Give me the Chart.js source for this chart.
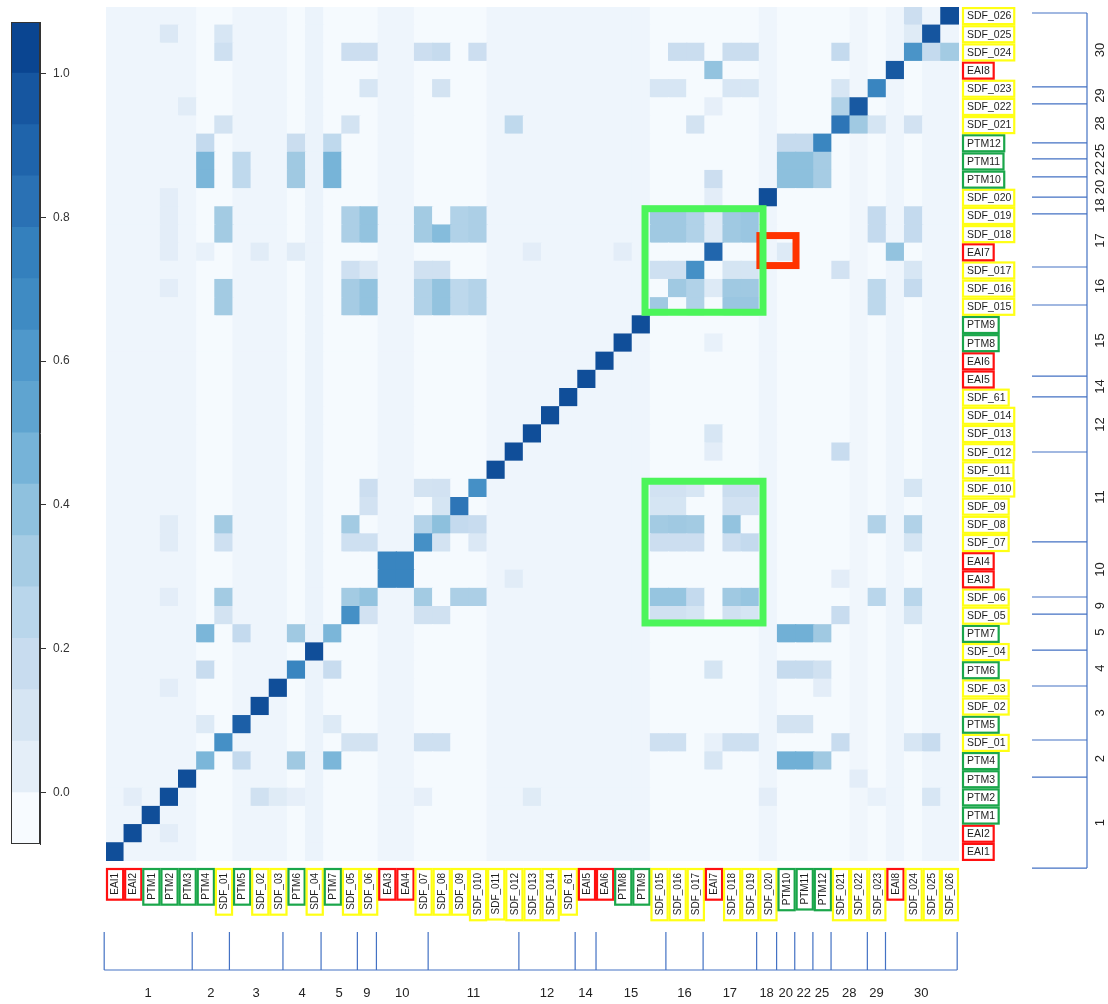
<!DOCTYPE html>
<html>
<head>
<meta charset="utf-8">
<script src="https://cdn.jsdelivr.net/npm/chart.js@4.4.1/dist/chart.umd.min.js"></script>
<style>
  html, body { margin: 0; padding: 0; background: #ffffff; }
  #wrap { position: relative; width: 1108px; height: 1004px; overflow: hidden; }
  #wrap canvas { position: absolute; left: 0; top: 0; }
</style>
</head>
<body>
<div id="wrap">
  <canvas id="heat" width="1108" height="1004"></canvas>
  <canvas id="cbar" width="100" height="1004"></canvas>
</div>
<script>
// ---- sample names (bottom to top on the y axis, left to right on the x axis) ----
const labels = [
  'EAI1', 'EAI2', 'PTM1', 'PTM2', 'PTM3', 'PTM4', 'SDF_01', 'PTM5', 'SDF_02', 'SDF_03',
  'PTM6', 'SDF_04', 'PTM7', 'SDF_05', 'SDF_06', 'EAI3', 'EAI4', 'SDF_07', 'SDF_08', 'SDF_09',
  'SDF_010', 'SDF_011', 'SDF_012', 'SDF_013', 'SDF_014', 'SDF_61', 'EAI5', 'EAI6', 'PTM8', 'PTM9',
  'SDF_015', 'SDF_016', 'SDF_017', 'EAI7', 'SDF_018', 'SDF_019', 'SDF_020', 'PTM10', 'PTM11', 'PTM12',
  'SDF_021', 'SDF_022', 'SDF_023', 'EAI8', 'SDF_024', 'SDF_025', 'SDF_026'
];

// background level of each column
const colBase = [
  0.0, 0.0, 0.0, 0.0, 0.0, -0.03, -0.03, 0.0, 0.0, 0.0,
  -0.03, 0.01, -0.03, -0.03, -0.03, 0.0, 0.0, -0.03, -0.03, -0.03,
  -0.03, 0.0, 0.0, 0.0, 0.0, 0.0, 0.0, 0.0, 0.0, 0.0,
  -0.03, -0.03, -0.03, -0.03, -0.03, -0.03, 0.0, -0.03, -0.03, -0.03,
  -0.03, -0.01, -0.03, 0.0, -0.03, 0.0, 0.0
];

// [row, column, value] for every cell that stands out from its column background
const cells = [
  [0, 0, 1.0],
  [1, 1, 1.0], [1, 3, 0.04],
  [2, 2, 1.0],
  [3, 1, 0.04], [3, 3, 1.0], [3, 8, 0.14], [3, 9, 0.06], [3, 10, 0.03], [3, 17, 0.03], [3, 23, 0.06], [3, 36, 0.04], [3, 42, 0.02], [3, 45, 0.1],
  [4, 4, 1.0], [4, 41, 0.04],
  [5, 5, 0.45], [5, 7, 0.2], [5, 10, 0.34], [5, 12, 0.45], [5, 33, 0.1], [5, 37, 0.48], [5, 38, 0.48], [5, 39, 0.34],
  [6, 6, 0.65], [6, 13, 0.12], [6, 14, 0.12], [6, 17, 0.15], [6, 18, 0.15], [6, 30, 0.15], [6, 31, 0.15], [6, 33, 0.02], [6, 34, 0.15], [6, 35, 0.15], [6, 40, 0.18], [6, 44, 0.1], [6, 45, 0.18],
  [7, 5, 0.07], [7, 7, 0.92], [7, 12, 0.07], [7, 37, 0.12], [7, 38, 0.12],
  [8, 8, 1.0],
  [9, 3, 0.04], [9, 9, 1.0], [9, 39, 0.04],
  [10, 5, 0.18], [10, 10, 0.72], [10, 12, 0.18], [10, 33, 0.11], [10, 37, 0.19], [10, 38, 0.19], [10, 39, 0.14],
  [11, 11, 1.0],
  [12, 5, 0.45], [12, 7, 0.2], [12, 10, 0.34], [12, 12, 0.45], [12, 37, 0.48], [12, 38, 0.48], [12, 39, 0.34],
  [13, 6, 0.12], [13, 13, 0.65], [13, 14, 0.13], [13, 17, 0.14], [13, 18, 0.14], [13, 30, 0.14], [13, 31, 0.14], [13, 32, 0.11], [13, 34, 0.14], [13, 35, 0.11], [13, 40, 0.18], [13, 44, 0.11],
  [14, 3, 0.04], [14, 6, 0.33], [14, 13, 0.33], [14, 14, 0.38], [14, 17, 0.33], [14, 19, 0.3], [14, 20, 0.3], [14, 30, 0.37], [14, 31, 0.37], [14, 32, 0.2], [14, 34, 0.34], [14, 35, 0.37], [14, 42, 0.25], [14, 44, 0.25],
  [15, 15, 0.72], [15, 16, 0.72], [15, 22, 0.05], [15, 40, 0.04],
  [16, 15, 0.72], [16, 16, 0.72],
  [17, 3, 0.05], [17, 6, 0.15], [17, 13, 0.15], [17, 14, 0.15], [17, 17, 0.65], [17, 18, 0.12], [17, 20, 0.08], [17, 30, 0.16], [17, 31, 0.16], [17, 32, 0.16], [17, 34, 0.16], [17, 35, 0.2], [17, 44, 0.11],
  [18, 3, 0.05], [18, 6, 0.33], [18, 13, 0.33], [18, 17, 0.27], [18, 18, 0.4], [18, 19, 0.2], [18, 20, 0.18], [18, 30, 0.33], [18, 31, 0.34], [18, 32, 0.33], [18, 34, 0.38], [18, 42, 0.28], [18, 44, 0.28],
  [19, 14, 0.13], [19, 18, 0.11], [19, 19, 0.8], [19, 30, 0.11], [19, 31, 0.11], [19, 34, 0.13], [19, 35, 0.13],
  [20, 14, 0.16], [20, 17, 0.12], [20, 18, 0.13], [20, 20, 0.65], [20, 30, 0.13], [20, 31, 0.13], [20, 32, 0.1], [20, 34, 0.17], [20, 35, 0.17], [20, 44, 0.11],
  [21, 21, 1.0],
  [22, 22, 1.0], [22, 33, 0.04], [22, 40, 0.18],
  [23, 23, 1.0], [23, 33, 0.1],
  [24, 24, 1.0],
  [25, 25, 1.0],
  [26, 26, 1.0],
  [27, 27, 1.0],
  [28, 28, 1.0], [28, 33, 0.02],
  [29, 29, 1.0],
  [30, 6, 0.33], [30, 13, 0.32], [30, 14, 0.38], [30, 17, 0.28], [30, 18, 0.38], [30, 19, 0.23], [30, 20, 0.27], [30, 30, 0.34], [30, 32, 0.28], [30, 34, 0.36], [30, 35, 0.36], [30, 42, 0.23],
  [31, 3, 0.04], [31, 6, 0.33], [31, 13, 0.32], [31, 14, 0.38], [31, 17, 0.28], [31, 18, 0.38], [31, 19, 0.23], [31, 20, 0.27], [31, 31, 0.34], [31, 32, 0.28], [31, 33, 0.07], [31, 34, 0.34], [31, 35, 0.34], [31, 42, 0.23], [31, 44, 0.2],
  [32, 13, 0.15], [32, 14, 0.08], [32, 17, 0.14], [32, 18, 0.14], [32, 30, 0.15], [32, 31, 0.15], [32, 32, 0.65], [32, 34, 0.11], [32, 35, 0.11], [32, 40, 0.13], [32, 44, 0.1],
  [33, 3, 0.04], [33, 5, 0.02], [33, 8, 0.05], [33, 10, 0.05], [33, 23, 0.04], [33, 28, 0.04], [33, 33, 0.88], [33, 37, 0.07], [33, 43, 0.38],
  [34, 3, 0.04], [34, 6, 0.33], [34, 13, 0.3], [34, 14, 0.38], [34, 17, 0.33], [34, 18, 0.42], [34, 19, 0.28], [34, 20, 0.3], [34, 30, 0.34], [34, 31, 0.34], [34, 32, 0.28], [34, 33, 0.07], [34, 34, 0.34], [34, 35, 0.36], [34, 42, 0.2], [34, 44, 0.2],
  [35, 3, 0.04], [35, 6, 0.33], [35, 13, 0.3], [35, 14, 0.38], [35, 17, 0.33], [35, 19, 0.28], [35, 20, 0.3], [35, 30, 0.34], [35, 31, 0.34], [35, 32, 0.28], [35, 33, 0.07], [35, 34, 0.34], [35, 35, 0.36], [35, 42, 0.2], [35, 44, 0.2],
  [36, 3, 0.04], [36, 33, 0.04], [36, 36, 1.0],
  [37, 5, 0.45], [37, 7, 0.22], [37, 10, 0.34], [37, 12, 0.46], [37, 33, 0.16], [37, 37, 0.4], [37, 38, 0.4], [37, 39, 0.32],
  [38, 5, 0.45], [38, 7, 0.22], [38, 10, 0.34], [38, 12, 0.46], [38, 37, 0.4], [38, 38, 0.4], [38, 39, 0.32],
  [39, 5, 0.2], [39, 10, 0.17], [39, 12, 0.22], [39, 37, 0.19], [39, 38, 0.19], [39, 39, 0.71],
  [40, 6, 0.12], [40, 13, 0.12], [40, 22, 0.22], [40, 32, 0.12], [40, 40, 0.8], [40, 41, 0.34], [40, 42, 0.11], [40, 44, 0.13],
  [41, 4, 0.05], [41, 33, 0.03], [41, 40, 0.28], [41, 41, 0.95],
  [42, 14, 0.1], [42, 18, 0.12], [42, 30, 0.1], [42, 31, 0.1], [42, 34, 0.1], [42, 35, 0.1], [42, 40, 0.1], [42, 42, 0.72],
  [43, 33, 0.38], [43, 43, 0.95],
  [44, 6, 0.15], [44, 13, 0.16], [44, 14, 0.16], [44, 17, 0.16], [44, 18, 0.19], [44, 20, 0.16], [44, 31, 0.17], [44, 32, 0.17], [44, 34, 0.17], [44, 35, 0.17], [44, 40, 0.2], [44, 44, 0.63], [44, 45, 0.2], [44, 46, 0.33],
  [45, 3, 0.08], [45, 6, 0.1], [45, 44, 0.06], [45, 45, 0.97],
  [46, 44, 0.16], [46, 46, 1.0]
];

// cluster numbers and their boundaries (in cell units) along the bottom and right edges
const groupNames = ['1', '2', '3', '4', '5', '9', '10', '11', '12', '14', '15', '16', '17', '18', '20', '22', '25', '28', '29', '30'];
const bottomBounds = [-0.1, 4.75, 6.8, 9.75, 11.85, 13.85, 14.9, 17.75, 22.75, 25.85, 27.0, 30.85, 32.9, 35.85, 36.95, 37.95, 38.95, 39.95, 41.95, 42.95, 46.9];
const rightBounds = [-0.39, 4.62, 6.66, 9.63, 11.61, 13.59, 14.53, 17.56, 22.51, 25.54, 26.69, 30.6, 32.69, 35.61, 36.54, 37.65, 38.64, 39.52, 41.67, 42.6, 46.67];

// highlighted blocks (cell units: columns x0..x1, rows y0..y1)
const greenBlocks = [
  { x0: 29.7, x1: 36.2, y0: 30.2, y1: 35.9 },
  { x0: 29.7, x1: 36.2, y0: 13.1, y1: 20.9 }
];
const redBlock = { x0: 36.03, x1: 38.02, y0: 32.77, y1: 34.42 };

// colour key
const bandColors = [
  '#f7fbff', '#e4eef8', '#d6e5f3', '#c8dcef', '#b9d6eb', '#a6cce4', '#8fc1de', '#76b3d8',
  '#5fa4d0', '#4f98cb', '#3f8bc3', '#3480bd', '#2a71b4', '#1f64ab', '#1656a0', '#0a4591'
];
const keyMin = -1 / 14;
const keyStep = 1 / 14;
const keyTicks = [0, 0.2, 0.4, 0.6, 0.8, 1.0];

const FONT = '"Liberation Sans", Arial, sans-serif';
const kindColor = { EAI: '#ff1010', PTM: '#1aa64a', SDF: '#ffff14' };
const lineBlue = '#4472c4';

// ---- build the matrix ----
const matrix = labels.map(() => colBase.slice());
cells.forEach(([r, c, v]) => { matrix[r][c] = v; });

function hexRgb(h) {
  return [parseInt(h.slice(1, 3), 16), parseInt(h.slice(3, 5), 16), parseInt(h.slice(5, 7), 16)];
}
function valueColor(v) {
  let p = (v - keyMin) / keyStep - 0.5;
  p = Math.max(0, Math.min(bandColors.length - 1, p));
  const i = Math.min(Math.floor(p), bandColors.length - 2);
  const f = p - i;
  const a = hexRgb(bandColors[i]), b = hexRgb(bandColors[i + 1]);
  const m = a.map((x, k) => Math.round(x + (b[k] - x) * f));
  return `rgb(${m[0]},${m[1]},${m[2]})`;
}

const heatSets = labels.map((name, r) => ({
  label: name,
  data: labels.map(() => [r, r + 1]),
  backgroundColor: labels.map((_, c) => valueColor(matrix[r][c])),
  borderWidth: 0,
  grouped: false,
  barPercentage: 1,
  categoryPercentage: 1,
  inflateAmount: 0.6
}));

// ---- annotations: highlight boxes, boxed sample names, cluster brackets ----
const annotations = {
  id: 'annotations',
  afterDraw(chart) {
    const ctx = chart.ctx;
    const xs = chart.scales.x, ys = chart.scales.y;
    const area = chart.chartArea;
    const X = b => xs.getPixelForValue(b - 0.5);
    const Y = b => ys.getPixelForValue(b);
    ctx.save();

    // red bracket, then green blocks on top
    ctx.lineWidth = 7;
    ctx.strokeStyle = '#ff3300';
    ctx.strokeRect(X(redBlock.x0), Y(redBlock.y1), X(redBlock.x1) - X(redBlock.x0), Y(redBlock.y0) - Y(redBlock.y1));
    ctx.strokeStyle = '#4cf55a';
    greenBlocks.forEach(g => {
      ctx.strokeRect(X(g.x0), Y(g.y1), X(g.x1) - X(g.x0), Y(g.y0) - Y(g.y1));
    });

    // sample names under the columns (rotated) and right of the rows
    ctx.font = '10px ' + FONT;
    ctx.lineWidth = 2.2;
    labels.forEach((name, i) => {
      const col = kindColor[name.slice(0, 3)];
      const w = ctx.measureText(name).width;
      // bottom
      const x0 = X(i), x1 = X(i + 1);
      const top = area.bottom + 8;
      ctx.strokeStyle = col;
      ctx.strokeRect(x0 + 1, top, x1 - x0 - 2, w + 9);
      ctx.save();
      ctx.translate((x0 + x1) / 2 + 0.5, top + 4);
      ctx.rotate(-Math.PI / 2);
      ctx.fillStyle = '#1e1e1e';
      ctx.textAlign = 'right';
      ctx.textBaseline = 'middle';
      ctx.fillText(name, 0, 0);
      ctx.restore();
      // right
      const yc = Y(i + 0.5);
      ctx.strokeRect(area.right + 4, yc - 8, w + 9, 16);
      ctx.fillStyle = '#1e1e1e';
      ctx.textAlign = 'left';
      ctx.textBaseline = 'middle';
      ctx.font = '10.5px ' + FONT;
      ctx.fillText(name, area.right + 8, yc + 0.5);
      ctx.font = '10px ' + FONT;
    });

    // bottom cluster bracket
    ctx.strokeStyle = lineBlue;
    ctx.lineWidth = 1.2;
    const yTop = area.bottom + 71, yBase = area.bottom + 109;
    ctx.beginPath();
    bottomBounds.forEach(b => { ctx.moveTo(X(b), yTop); ctx.lineTo(X(b), yBase); });
    ctx.moveTo(X(bottomBounds[0]), yBase);
    ctx.lineTo(X(bottomBounds[bottomBounds.length - 1]), yBase);
    ctx.stroke();
    ctx.fillStyle = '#222';
    ctx.font = '13px ' + FONT;
    ctx.textAlign = 'center';
    ctx.textBaseline = 'middle';
    groupNames.forEach((g, k) => {
      ctx.fillText(g, (X(bottomBounds[k]) + X(bottomBounds[k + 1])) / 2, area.bottom + 132);
    });

    // right cluster bracket
    const xL = area.right + 73, xR = area.right + 128;
    ctx.beginPath();
    rightBounds.forEach(b => { ctx.moveTo(xL, Y(b)); ctx.lineTo(xR, Y(b)); });
    ctx.moveTo(xR, Y(rightBounds[0]));
    ctx.lineTo(xR, Y(rightBounds[rightBounds.length - 1]));
    ctx.stroke();
    groupNames.forEach((g, k) => {
      ctx.save();
      ctx.translate(area.right + 141, (Y(rightBounds[k]) + Y(rightBounds[k + 1])) / 2);
      ctx.rotate(-Math.PI / 2);
      ctx.fillText(g, 0, 0);
      ctx.restore();
    });
    ctx.restore();
  }
};

new Chart(document.getElementById('heat'), {
  type: 'bar',
  data: { labels: labels, datasets: heatSets },
  options: {
    responsive: false,
    animation: false,
    events: [],
    layout: { padding: { left: 106, right: 149, top: 7, bottom: 143 } },
    plugins: { legend: { display: false }, tooltip: { enabled: false } },
    scales: {
      x: { type: 'category', display: false, offset: true },
      y: { type: 'linear', display: false, min: 0, max: labels.length }
    }
  },
  plugins: [annotations]
});

// ---- colour key ----
const keyFrame = {
  id: 'keyFrame',
  afterDatasetsDraw(chart) {
    const a = chart.chartArea, ctx = chart.ctx;
    ctx.save();
    ctx.strokeStyle = '#333';
    ctx.lineWidth = 1;
    ctx.strokeRect(a.left + 0.5, a.top + 0.5, a.right - a.left - 1, a.bottom - a.top - 1);
    ctx.restore();
  }
};

new Chart(document.getElementById('cbar'), {
  type: 'bar',
  data: {
    labels: [''],
    datasets: bandColors.map((c, k) => ({
      data: [[keyMin + k * keyStep, keyMin + (k + 1) * keyStep]],
      backgroundColor: c,
      borderWidth: 0,
      grouped: false,
      barPercentage: 1,
      categoryPercentage: 1,
      inflateAmount: 0.6
    }))
  },
  options: {
    responsive: false,
    animation: false,
    events: [],
    layout: { padding: { left: 11, right: 0, top: 22, bottom: 160 } },
    plugins: { legend: { display: false }, tooltip: { enabled: false } },
    scales: {
      x: { display: false },
      y: {
        position: 'right',
        min: keyMin,
        max: keyMin + bandColors.length * keyStep,
        afterFit(s) { s.width = 60; },
        afterBuildTicks(s) { s.ticks = keyTicks.map(v => ({ value: v })); },
        grid: { drawOnChartArea: false, drawTicks: true, tickLength: 6, color: '#333', lineWidth: 1 },
        border: { display: true, color: '#333' },
        ticks: {
          callback: v => Number(v).toFixed(1),
          color: '#333',
          padding: 7,
          font: { size: 12, family: FONT }
        }
      }
    }
  },
  plugins: [keyFrame]
});
</script>
</body>
</html>
